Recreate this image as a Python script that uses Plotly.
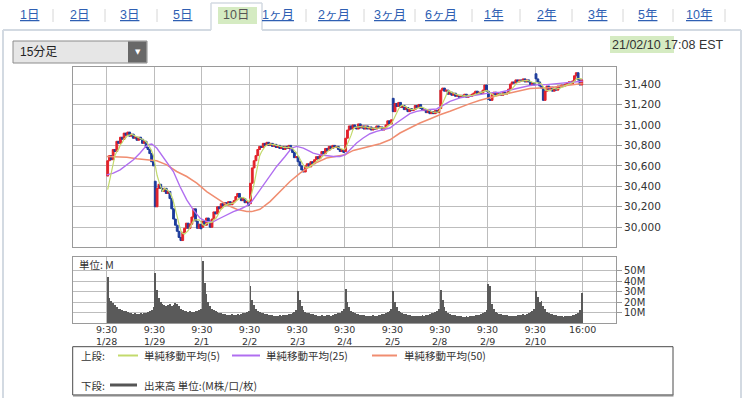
import numpy as np
import pandas as pd
import plotly.graph_objects as go

# ---------------- data ----------------
DATES = ["1/28", "1/29", "2/1", "2/2", "2/3", "2/4", "2/5", "2/8", "2/9", "2/10"]
BARS_PER_DAY = 26  # 15-minute bars 9:30-16:00

DAY_OPEN = [30500, 30450, 30000, 30230, 30690, 30740, 31260, 31160, 31330, 31500]
CLOSE_0128 = [30650, 30700, 30660, 30760, 30740, 30840, 30820, 30880, 30860, 30920, 30900, 30930, 30890,
              30910, 30870, 30880, 30850, 30880, 30860, 30820, 30840, 30780, 30760, 30720, 30640, 30600]
CLOSE_0129 = [30200, 30380, 30420, 30380, 30350, 30380, 30330, 30350, 30280, 30180, 30080, 30020, 29960,
              29900, 29870, 29950, 29990, 30040, 29990, 30030, 30100, 30180, 30060, 29990, 30030, 29985]
CLOSE_0201 = [30060, 30020, 30090, 30060, 30000, 30080, 30150, 30130, 30200, 30180, 30230, 30210, 30240,
              30220, 30250, 30220, 30240, 30260, 30300, 30330, 30290, 30260, 30280, 30240, 30250, 30215]
CLOSE_0202 = [30430, 30580, 30650, 30700, 30760, 30790, 30780, 30820, 30800, 30830, 30800, 30820, 30790,
              30810, 30780, 30800, 30770, 30790, 30760, 30790, 30770, 30800, 30760, 30730, 30680, 30690]
CLOSE_0203 = [30640, 30600, 30560, 30540, 30600, 30620, 30590, 30640, 30620, 30660, 30690, 30670, 30700,
              30740, 30720, 30770, 30750, 30790, 30770, 30800, 30780, 30790, 30760, 30740, 30760, 30730]
CLOSE_0204 = [30870, 30950, 30990, 30960, 31000, 30980, 30960, 31010, 30970, 30990, 30960, 30990, 30960,
              30980, 30950, 30970, 30960, 30990, 30970, 30980, 30950, 30970, 31000, 31040, 31010, 31050]
CLOSE_0205 = [31130, 31210, 31180, 31220, 31170, 31190, 31150, 31170, 31130, 31160, 31140, 31150, 31190,
              31170, 31200, 31160, 31140, 31150, 31120, 31140, 31110, 31130, 31110, 31140, 31120, 31150]
CLOSE_0208 = [31340, 31360, 31330, 31340, 31300, 31320, 31290, 31310, 31280, 31290, 31270, 31290, 31280,
              31300, 31270, 31290, 31280, 31300, 31310, 31330, 31300, 31320, 31310, 31340, 31390, 31330]
CLOSE_0209 = [31250, 31240, 31300, 31320, 31290, 31310, 31300, 31290, 31320, 31300, 31310, 31350, 31400,
              31420, 31410, 31440, 31420, 31440, 31430, 31450, 31420, 31440, 31420, 31390, 31410, 31390]
CLOSE_0210 = [31450, 31420, 31380, 31360, 31240, 31330, 31380, 31350, 31370, 31330, 31360, 31340, 31380,
              31370, 31390, 31380, 31400, 31410, 31420, 31400, 31430, 31480, 31510, 31440, 31390, 31440]
DAY_CLOSES = [CLOSE_0128, CLOSE_0129, CLOSE_0201, CLOSE_0202, CLOSE_0203,
              CLOSE_0204, CLOSE_0205, CLOSE_0208, CLOSE_0209, CLOSE_0210]
PRE_CLOSES = [30260, 30300, 30330, 30300]  # last bars of 1/27 (implied by the SMA5 start)

# volume, millions per 15-min bar
VOL_0128 = [44, 24, 21, 19, 17, 15, 14, 14, 13, 12, 12, 11, 10, 10, 9, 10, 9, 9, 10, 9, 10, 10, 11, 12, 13, 15]
VOL_0129 = [48, 32, 24, 20, 18, 17, 16, 17, 18, 16, 17, 19, 18, 16, 14, 13, 12, 12, 11, 12, 11, 11, 12, 12, 13, 14]
VOL_0201 = [59, 38, 28, 20, 16, 14, 13, 12, 11, 10, 10, 9, 9, 8, 8, 8, 9, 8, 8, 9, 8, 9, 10, 10, 11, 12]
VOL_0202 = [35, 22, 17, 14, 12, 11, 10, 10, 9, 9, 8, 8, 8, 7, 7, 7, 8, 7, 8, 8, 8, 9, 9, 10, 11, 13]
VOL_0203 = [31, 22, 16, 13, 11, 10, 10, 9, 9, 8, 8, 7, 7, 8, 7, 7, 8, 8, 7, 8, 9, 9, 10, 10, 12, 14]
VOL_0204 = [33, 20, 15, 12, 11, 10, 9, 9, 8, 8, 8, 7, 7, 7, 7, 8, 7, 7, 8, 8, 9, 9, 10, 11, 12, 14]
VOL_0205 = [31, 20, 15, 12, 11, 10, 9, 9, 8, 8, 7, 7, 7, 7, 7, 7, 8, 7, 8, 8, 9, 10, 10, 11, 12, 14]
VOL_0208 = [32, 22, 15, 12, 10, 9, 8, 8, 8, 7, 7, 7, 6, 6, 7, 6, 7, 7, 7, 8, 8, 8, 9, 10, 11, 13]
VOL_0209 = [37, 35, 18, 14, 11, 10, 9, 9, 8, 8, 8, 7, 7, 7, 7, 7, 8, 8, 8, 9, 8, 9, 10, 11, 12, 14]
VOL_0210 = [31, 25, 20, 21, 16, 14, 11, 10, 9, 9, 8, 8, 7, 7, 7, 6, 7, 7, 7, 7, 8, 8, 9, 10, 13, 29]
DAY_VOLS = [VOL_0128, VOL_0129, VOL_0201, VOL_0202, VOL_0203,
            VOL_0204, VOL_0205, VOL_0208, VOL_0209, VOL_0210]

# moving averages (bar position, value)
MA25_X = [0, 3.6, 7.3, 11, 14.6, 18.2, 21, 22.8, 24.6, 27.3, 30, 32.8, 36.4, 40, 43.7, 47.3, 51, 54.6, 58.3,
          61.9, 65.5, 69.2, 72.8, 76.5, 79.2, 83.7, 88.3, 92.8, 97.4, 101, 103.8, 107.4, 111, 112.8, 116.5,
          120.1, 123.8, 127.4, 130.1, 132.9, 136.5, 140.1, 143.8, 147.4, 151.1, 154.7, 158.3, 162, 165.6,
          169.3, 174.7, 180.2, 183, 187.5, 193, 198.4, 203.9, 209.4, 214.8, 220.3, 225.8, 231.2, 236.7,
          240.3, 245.8, 251.2, 260]
MA25_Y = [30512, 30529, 30561, 30610, 30659, 30725, 30784, 30808, 30813, 30774, 30708, 30643, 30545, 30398,
          30267, 30169, 30088, 30055, 30055, 30088, 30120, 30153, 30176, 30209, 30251, 30365, 30480, 30594,
          30692, 30774, 30790, 30774, 30741, 30725, 30708, 30699, 30692, 30692, 30708, 30757, 30823, 30872,
          30914, 30937, 30953, 30970, 31019, 31068, 31110, 31133, 31149, 31156, 31182, 31231, 31264, 31280,
          31296, 31313, 31319, 31339, 31362, 31385, 31394, 31394, 31404, 31411, 31427]
MA50_X = [0, 5.5, 11, 16.4, 21.8, 27.3, 32.8, 38.2, 43.7, 49.2, 54.6, 60.1, 65.5, 71, 76.5, 79.2, 83.7, 89.2,
          94.7, 100.1, 105.6, 111, 112.8, 120.1, 125.6, 130.1, 134.7, 142, 149.3, 154.7, 160.2, 165.6, 171.1,
          176.5, 182, 187.5, 193, 198.4, 203.9, 209.4, 214.8, 220.3, 225.8, 231.2, 236.7, 240.3, 247.6, 260]
MA50_Y = [30692, 30686, 30683, 30669, 30659, 30650, 30610, 30545, 30496, 30431, 30349, 30284, 30218, 30176,
          30153, 30153, 30176, 30251, 30349, 30447, 30529, 30594, 30617, 30676, 30692, 30708, 30751, 30780,
          30816, 30855, 30921, 30970, 31019, 31058, 31100, 31133, 31172, 31208, 31241, 31270, 31293, 31313,
          31336, 31355, 31362, 31362, 31378, 31404]

PRICE_TICKS = [30000, 30200, 30400, 30600, 30800, 31000, 31200, 31400]
VOL_TICKS = [10, 20, 30, 40, 50]
VOL_TICK_TEXT = ["10M", "20M", "30M", "40M", "50M"]
TIME_LABELS = ["9:30"] * 10 + ["16:00"]

TABS = ["1日", "2日", "3日", "5日", "10日", "1ヶ月", "2ヶ月", "3ヶ月", "6ヶ月", "1年", "2年", "3年", "5年", "10年"]
SELECTED_TAB = "10日"
LEGEND_ITEMS = ["単純移動平均(5)", "単純移動平均(25)", "単純移動平均(50)"]

# ---------------- build series ----------------
opens, closes = [], []
for o, cl in zip(DAY_OPEN, DAY_CLOSES):
    prev = o
    for c in cl:
        opens.append(prev)
        closes.append(c)
        prev = c
opens = np.array(opens, float)
closes = np.array(closes, float)
highs = np.maximum(opens, closes)
lows = np.minimum(opens, closes)
n = len(closes)
xb = np.arange(n) + 0.5
ma5 = pd.Series(PRE_CLOSES + list(closes)).rolling(5).mean().iloc[len(PRE_CLOSES):].to_numpy()
vols = np.concatenate(DAY_VOLS)
day_ticks = [i * BARS_PER_DAY for i in range(len(DATES) + 1)]

# ---------------- geometry helpers ----------------
W, H = 749, 398
def px(x): return x / W
def py(y): return 1 - y / H

RED = "#e3232b"
BLUE = "#1d3c9c"
GREEN = "#c3da6c"
PURPLE = "#b06ef0"
SALMON = "#f08d70"
GRID = "#bdbdbd"
FRAME = "#9a9a9a"
TXT = "#333333"
FONT = "DejaVu Sans, Noto Sans CJK JP"
JFONT = "Liberation Sans, Noto Sans CJK JP"

XR = [-18.6, 278.2]

fig = go.Figure()
fig.add_trace(go.Candlestick(
    x=xb, open=opens, high=highs, low=lows, close=closes,
    increasing=dict(line=dict(color=RED, width=1), fillcolor=RED),
    decreasing=dict(line=dict(color=BLUE, width=1), fillcolor=BLUE),
    whiskerwidth=0, showlegend=False, hoverinfo="skip", xaxis="x", yaxis="y"))
fig.add_trace(go.Scatter(x=MA50_X, y=MA50_Y, mode="lines", line=dict(color=SALMON, width=1.5),
                         showlegend=False, hoverinfo="skip", xaxis="x", yaxis="y"))
fig.add_trace(go.Scatter(x=MA25_X, y=MA25_Y, mode="lines", line=dict(color=PURPLE, width=1.4),
                         showlegend=False, hoverinfo="skip", xaxis="x", yaxis="y"))
fig.add_trace(go.Scatter(x=xb, y=ma5, mode="lines", line=dict(color=GREEN, width=1.2),
                         showlegend=False, hoverinfo="skip", xaxis="x", yaxis="y"))
fig.add_trace(go.Bar(x=xb, y=vols, width=1, marker=dict(color="#5a5a5a", line=dict(width=0)),
                     showlegend=False, hoverinfo="skip", xaxis="x2", yaxis="y2"))

xdom = [px(72.7), px(616)]
axis_common = dict(showline=True, mirror=True, linecolor=FRAME, linewidth=1, gridcolor=GRID,
                   gridwidth=1, zeroline=False, fixedrange=True)
fig.update_layout(
    width=W, height=H, margin=dict(l=0, r=0, t=0, b=0),
    paper_bgcolor="white", plot_bgcolor="white", bargap=0, boxgap=0, boxgroupgap=0,
    font=dict(family=FONT, size=10, color=TXT),
    xaxis=dict(domain=xdom, anchor="y", range=XR, tickvals=day_ticks, showticklabels=False,
               showgrid=True, ticks="", rangeslider=dict(visible=False), **axis_common),
    yaxis=dict(domain=[py(247), py(66.5)], anchor="x", side="right", range=[29807, 31571],
               tickvals=PRICE_TICKS, tickformat=",d", ticks="outside", ticklen=5, tickcolor=FRAME,
               tickfont=dict(size=10.5, color=TXT), showgrid=True, **axis_common),
    xaxis2=dict(domain=xdom, anchor="y2", range=XR, tickvals=day_ticks, ticktext=TIME_LABELS,
                ticks="", ticklabelstandoff=-3, tickfont=dict(size=9.5, color=TXT), showgrid=True,
                **axis_common),
    yaxis2=dict(domain=[py(323.2), py(257.3)], anchor="x2", side="right", range=[0, 62.8],
                tickvals=VOL_TICKS, ticktext=VOL_TICK_TEXT, ticks="outside", ticklen=5, tickcolor=FRAME,
                tickfont=dict(size=10, color=TXT), showgrid=True, **axis_common),
)

shapes = []
annos = []
def line(x0, y0, x1, y1, color, width=1):
    shapes.append(dict(type="line", xref="paper", yref="paper", x0=px(x0), y0=py(y0), x1=px(x1), y1=py(y1),
                       line=dict(color=color, width=width)))
def rect(x0, y0, x1, y1, fill, lc=None, lw=0):
    shapes.append(dict(type="rect", xref="paper", yref="paper", x0=px(x0), y0=py(y0), x1=px(x1), y1=py(y1),
                       fillcolor=fill, line=dict(color=lc or fill, width=lw), layer="below"))
def text(x, y, s, size=11, color=TXT, anchor="left", family=FONT):
    annos.append(dict(xref="paper", yref="paper", x=px(x), y=py(y), text=s, showarrow=False,
                      xanchor=anchor, yanchor="middle", font=dict(size=size, color=color, family=family)))

# container & tabs
BORDER = "#d3dae2"
line(3, 30, 3, 398, BORDER, 2)
line(741, 30, 741, 398, BORDER, 2)
line(3, 30, 211, 30, BORDER, 2)
line(262, 30, 741, 30, BORDER, 2)
line(211, 3, 211, 30, BORDER, 1.5)
line(262, 3, 262, 30, BORDER, 1.5)
line(211, 3, 262, 3, BORDER, 1.5)
rect(218, 7, 257, 24, "#d5ebc2")
TAB_CX = [29, 79, 129, 182, 236, 278, 334, 390, 441, 493, 546, 597, 647, 699]
for cx, t in zip(TAB_CX, TABS):
    if t == SELECTED_TAB:
        text(cx, 15.5, t, 12.5, "#555555", "center", JFONT)
    else:
        text(cx, 15.5, "<u>" + t + "</u>", 12.5, "#2f5fb3", "center", JFONT)
for sx in [53, 105, 157, 306, 364, 415, 472, 520, 572, 623, 673, 725]:
    line(sx, 9, sx, 22, "#d6d6d6", 1)

# dropdown
rect(13, 41, 147, 63, "#e6e6e6", "#8c8c8c", 1)
rect(128, 41.5, 146.5, 62.5, "#686868")
text(18, 52, "15分足", 12, "#222222", "left", JFONT)
text(137.5, 52, "▼", 7, "white", "center", "DejaVu Sans")

# timestamp
rect(610, 36, 674, 53, "#d5ebc2")
text(610, 44.5, "21/02/10 17:08 EST", 12.5, TXT, "left", "Liberation Sans")

# volume unit label
text(77, 264.5, "単位: M", 10.5, TXT, "left", "Noto Sans CJK JP")

# date labels under time ticks
for d, tv in zip(DATES, day_ticks):
    annos.append(dict(xref="x2", yref="paper", x=tv, y=py(341.5), text=d, showarrow=False,
                      xanchor="center", yanchor="middle", font=dict(size=9.5, color=TXT)))

# legend box
rect(72.7, 346.7, 673, 395, "white", "#4a4a4a", 1)
line(73, 395.5, 673.5, 395.5, "#8a8a8a", 2)
text(79, 355.5, "上段:", 10.5, TXT, "left", "Noto Sans CJK JP")
for (x0, x1, tx), col, lab in zip([(118, 138, 141.5), (232, 260, 264), (372, 397, 401.5)],
                                  [GREEN, PURPLE, SALMON], LEGEND_ITEMS):
    line(x0, 355.5, x1, 355.5, col, 2)
    text(tx, 355.5, lab, 10.5, TXT, "left", "Noto Sans CJK JP")
text(79, 385, "下段:", 10.5, TXT, "left", "Noto Sans CJK JP")
line(110, 385, 137, 385, "#555555", 3)
text(141.5, 385, "出来高 単位:(M株/口/枚)", 10.5, TXT, "left", "Noto Sans CJK JP")

fig.update_layout(shapes=shapes, annotations=annos)
fig.write_html("out.html",
               config={"displayModeBar": False, "staticPlot": True},
               post_script="document.body.style.margin='0';document.body.style.overflow='hidden';")
